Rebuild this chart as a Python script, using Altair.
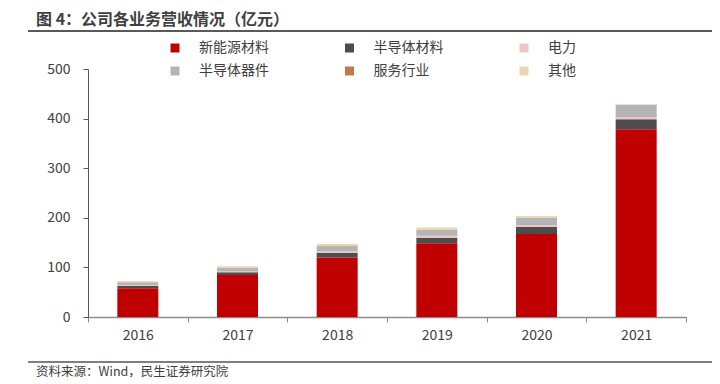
import altair as alt
import pandas as pd

years = ["2016", "2017", "2018", "2019", "2020", "2021"]
categories = ["新能源材料", "半导体材料", "电力", "半导体器件", "服务行业", "其他"]
colors = ["#C00000", "#4D4D4D", "#EEC4C4", "#B4B4B4", "#C07A4B", "#E9D6B6"]
legend_order = ["新能源材料", "半导体器件", "半导体材料", "服务行业", "电力", "其他"]

new_energy = [58, 84.5, 120, 148.5, 167.5, 378.5]
semi_material = [5, 5.5, 9.3, 11.3, 14.1, 20.2]
power = [1.5, 1.5, 2.8, 4.0, 4.0, 4.6]
semi_device = [5, 7, 10.7, 11.5, 14.1, 24.2]
service = [0.5, 0.5, 0.5, 0.5, 0.5, 0.3]
other = [2, 3.5, 4, 4.6, 3.4, 0]

series = [new_energy, semi_material, power, semi_device, service, other]
rows = []
for ci, (cat, vals) in enumerate(zip(categories, series)):
    for y, v in zip(years, vals):
        rows.append({"year": y, "cat": cat, "idx": ci, "value": v})
df = pd.DataFrame(rows)

FONT = "Noto Sans CJK SC"

bars = alt.Chart(df).mark_bar(size=41).encode(
    x=alt.X("year:N", sort=years, title=None,
            scale=alt.Scale(paddingInner=0, paddingOuter=0),
            axis=alt.Axis(labelAngle=0, labelFontSize=14, labelColor="#404040",
                          labelFont=FONT, domainColor="#8C8C8C", tickColor="#8C8C8C",
                          domainWidth=1.5, tickBand="extent", tickSize=5, labelPadding=6)),
    y=alt.Y("value:Q", stack="zero", title=None,
            scale=alt.Scale(domain=[0, 500]),
            axis=alt.Axis(values=[0, 100, 200, 300, 400, 500], grid=False,
                          labelFontSize=14, labelColor="#404040", labelFont=FONT,
                          domainColor="#595959", tickColor="#595959", tickSize=5,
                          labelPadding=13)),
    color=alt.Color("cat:N", sort=categories,
                    scale=alt.Scale(domain=categories, range=colors),
                    legend=alt.Legend(orient="none", legendX=80, legendY=-28,
                                      columns=3, title=None, symbolType="square",
                                      values=legend_order,
                                      symbolSize=81, symbolStrokeWidth=0,
                                      labelFontSize=14, labelFont=FONT,
                                      labelColor="#404040", labelOffset=17,
                                      columnPadding=73.5, rowPadding=9, padding=0)),
    order=alt.Order("idx:Q", sort="ascending"),
)

one = pd.DataFrame({"a": [0]})

title = alt.Chart(one).mark_text(
    text="图 4：公司各业务营收情况（亿元）", align="left", baseline="middle",
    fontSize=16, fontWeight="bold", font=FONT, color="#404040"
).encode(x=alt.value(-52), y=alt.value(-49))

top_rule = alt.Chart(one).mark_rule(color="#595959", strokeWidth=2).encode(
    x=alt.value(-60), x2=alt.value(624), y=alt.value(-38))

bottom_rule = alt.Chart(one).mark_rule(color="#7F7F7F", strokeWidth=2).encode(
    x=alt.value(-60), x2=alt.value(624), y=alt.value(293))

source = alt.Chart(one).mark_text(
    text="资料来源：Wind，民生证券研究院", align="left", baseline="middle",
    fontSize=12.5, font=FONT, color="#404040"
).encode(x=alt.value(-52), y=alt.value(303))

chart = alt.layer(bars, title, top_rule, bottom_rule, source).properties(
    width=598, height=248,
    padding={"left": 80, "top": 61, "right": 26, "bottom": 66},
    autosize=alt.AutoSizeParams(type="none"),
).configure_view(stroke=None)

chart.save("out.html", embed_options={"renderer": "svg", "actions": False})
